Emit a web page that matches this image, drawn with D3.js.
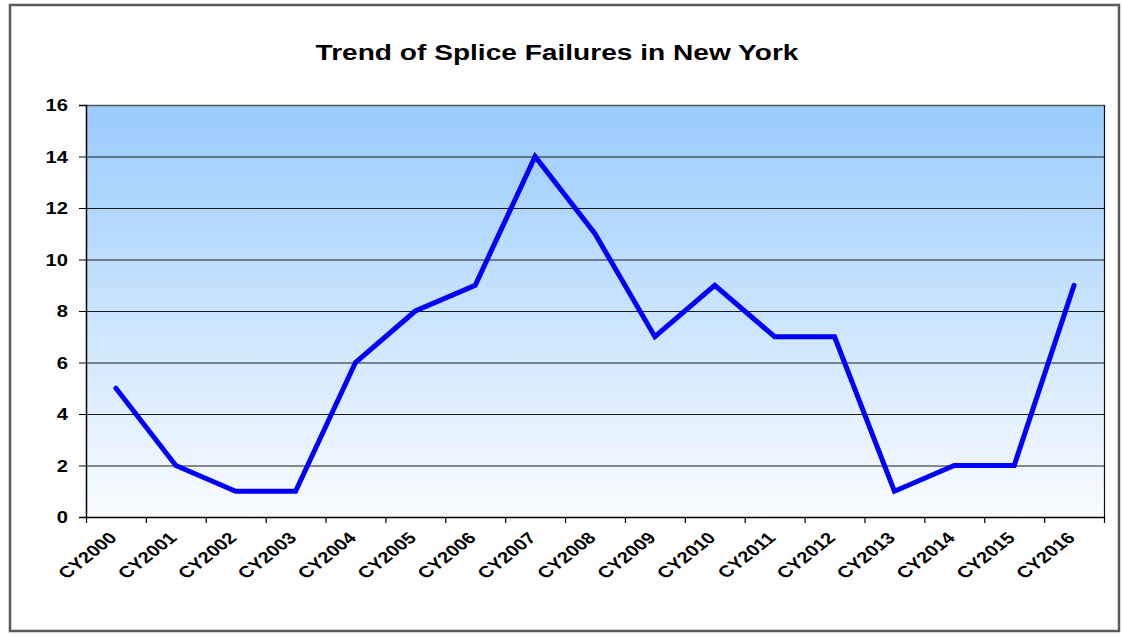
<!DOCTYPE html>
<html>
<head>
<meta charset="utf-8">
<script src="https://cdn.jsdelivr.net/npm/d3@7"></script>
<style>
  html, body { margin: 0; padding: 0; background: #ffffff; }
  svg { display: block; }
  text { font-family: "Liberation Sans", Arial, sans-serif; font-weight: bold; fill: #000; }
</style>
</head>
<body>
<svg id="chart" width="1123" height="634"></svg>
<script>
const title = "Trend of Splice Failures in New York";
const categories = ["CY2000","CY2001","CY2002","CY2003","CY2004","CY2005","CY2006","CY2007","CY2008","CY2009","CY2010","CY2011","CY2012","CY2013","CY2014","CY2015","CY2016"];
const failures = [5, 2, 1, 1, 6, 8, 9, 14, 11, 7, 9, 7, 7, 1, 2, 2, 9];
const yTicks = [0, 2, 4, 6, 8, 10, 12, 14, 16];

const plot = { left: 86, right: 1104, top: 105, bottom: 517 };
const stretch = 1.26; // horizontal stretch of text seen in the reference

const svg = d3.select("#chart");

// outer frame
svg.append("rect")
  .attr("x", 10).attr("y", 5).attr("width", 1109).attr("height", 626)
  .attr("fill", "#ffffff").attr("stroke", "#5a5a5a").attr("stroke-width", 2.5);

// gradient
const defs = svg.append("defs");
const grad = defs.append("linearGradient").attr("id", "bg")
  .attr("x1", 0).attr("y1", 0).attr("x2", 0).attr("y2", 1);
grad.append("stop").attr("offset", "0%").attr("stop-color", "#99cbfd");
grad.append("stop").attr("offset", "100%").attr("stop-color", "#fafcff");

const x = d3.scaleBand().domain(categories).range([plot.left, plot.right]).padding(0);
const y = d3.scaleLinear().domain([0, 16]).range([plot.bottom, plot.top]);

svg.append("rect")
  .attr("x", plot.left).attr("y", plot.top)
  .attr("width", plot.right - plot.left).attr("height", plot.bottom - plot.top)
  .attr("fill", "url(#bg)");

// gridlines
svg.append("g").selectAll("line").data(yTicks.filter(d => d > 0)).join("line")
  .attr("x1", plot.left).attr("x2", plot.right)
  .attr("y1", d => y(d) + 0.5).attr("y2", d => y(d) + 0.5)
  .attr("stroke", d => d === 16 ? "#555" : "#1a1a1a")
  .attr("stroke-width", d => d === 16 ? 1.5 : 1);

// right border
svg.append("line")
  .attr("x1", plot.right + 0.5).attr("x2", plot.right + 0.5)
  .attr("y1", plot.top).attr("y2", plot.bottom)
  .attr("stroke", "#111").attr("stroke-width", 1.2);

// Y axis
const yAxis = d3.axisLeft(y).tickValues(yTicks).tickSize(7).tickPadding(0).tickFormat(() => "");
const gy = svg.append("g").attr("transform", `translate(${plot.left},0)`).call(yAxis);
gy.select(".domain").attr("stroke", "#000").attr("stroke-width", 1.5);
gy.selectAll(".tick line").attr("stroke", "#000");
svg.append("g").selectAll("text").data(yTicks).join("text")
  .attr("transform", d => `translate(68,${y(d) + 6}) scale(${stretch},1)`)
  .attr("text-anchor", "end")
  .attr("font-size", 16)
  .text(d => d);

// X axis
const xTickPos = categories.map(c => x(c)).concat([plot.right]);
const gx = svg.append("g");
gx.append("line")
  .attr("x1", plot.left).attr("x2", plot.right)
  .attr("y1", plot.bottom + 0.5).attr("y2", plot.bottom + 0.5)
  .attr("stroke", "#000").attr("stroke-width", 1.5);
gx.selectAll("line.tk").data(xTickPos).join("line").attr("class", "tk")
  .attr("x1", d => d + 0.5).attr("x2", d => d + 0.5)
  .attr("y1", plot.bottom).attr("y2", plot.bottom + 6)
  .attr("stroke", "#000").attr("stroke-width", 1.2);
gx.selectAll("text").data(categories).join("text")
  .attr("transform", c => `translate(${x(c) + x.bandwidth() / 2 + 2},539) scale(${stretch},1) rotate(-45)`)
  .attr("text-anchor", "end")
  .attr("font-size", 16)
  .text(c => c);

// line
const line = d3.line()
  .x((d, i) => x(categories[i]) + x.bandwidth() / 2)
  .y(d => y(d));
svg.append("path")
  .datum(failures)
  .attr("d", line)
  .attr("fill", "none")
  .attr("stroke", "#0000ff")
  .attr("stroke-width", 5)
  .attr("stroke-linejoin", "miter")
  .attr("stroke-linecap", "round");

// title
svg.append("text")
  .attr("transform", `translate(557,60) scale(${stretch},1)`)
  .attr("text-anchor", "middle")
  .attr("font-size", 22.3)
  .text(title);
</script>
</body>
</html>
